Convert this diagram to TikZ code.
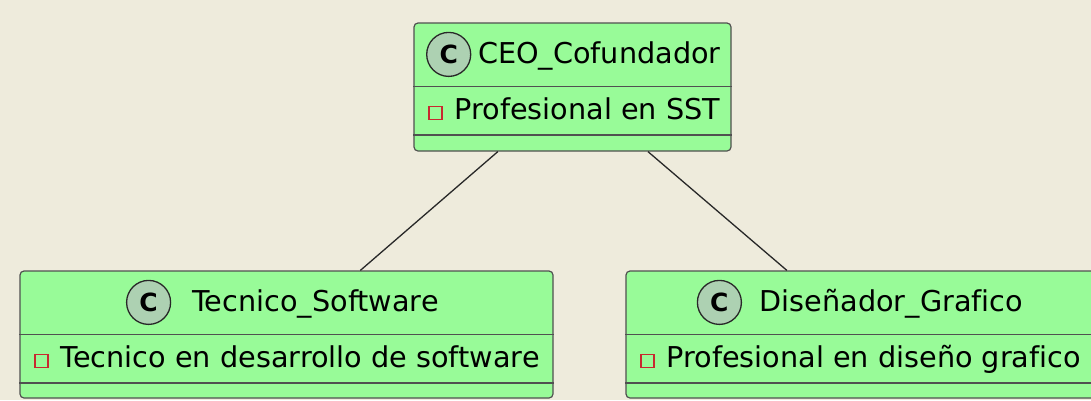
\documentclass[tikz,border=0pt]{standalone}
\usepackage{fontspec}
\setmainfont{DejaVu Sans}[Ligatures={NoCommon}]
\usetikzlibrary{calc}
\definecolor{bgcol}{HTML}{EEEBDC}
\definecolor{boxfill}{HTML}{98FB98}
\definecolor{boxline}{HTML}{505050}
\definecolor{spotfill}{HTML}{ADD1B2}
\definecolor{privred}{HTML}{C82930}
\definecolor{linecol}{HTML}{282828}
\tikzset{
  classbox/.style={draw=boxline, line width=1.2pt, fill=boxfill, rounded corners=4pt, rectangle, inner sep=0pt},
  sepline/.style={draw=boxline, line width=1.2pt},
  spot/.style={circle, draw=linecol, line width=1.3pt, fill=spotfill, minimum size=44pt, inner sep=0pt, font=\fontsize{25}{28}\selectfont\bfseries},
  clsname/.style={anchor=base west, inner sep=0pt, font=\fontsize{28.7}{34}\selectfont},
  attrtext/.style={anchor=base west, inner sep=0pt, font=\fontsize{28.7}{34}\selectfont},
  privmark/.style={rectangle, draw=privred, line width=1.6pt, minimum size=13pt, inner sep=0pt},
  assoc/.style={draw=linecol, line width=1.3pt},
}
\begin{document}
\begin{tikzpicture}[x=1pt, y=-1pt]
\useasboundingbox (0,0) rectangle (1091,400);
\fill[bgcol] (0,0) rectangle (1091,400);
\begin{scope}
\clip (0,0) rectangle (1091,400);
% class boxes
\node[classbox, minimum width=317pt, minimum height=128pt] (ceo) at (572.5,87) {};
\node[classbox, minimum width=533pt, minimum height=127pt] (tec) at (286.5,334.5) {};
\node[classbox, minimum width=471pt, minimum height=127pt] (dis) at (861.5,334.5) {};
% connectors
\draw[assoc] (ceo) -- (tec);
\draw[assoc] (ceo) -- (dis);
% separators
\foreach \b in {ceo,tec,dis}{
  \draw[sepline] ([yshift=-64pt]\b.north west) -- ([yshift=-64pt]\b.north east);
  \draw[sepline] ([yshift=-112.5pt]\b.north west) -- ([yshift=-112.5pt]\b.north east);
  \node[privmark] (\b-priv) at ([xshift=22pt,yshift=-90.5pt]\b.north west) {};
}
% headers
\node[spot] (ceo-spot) at ([xshift=35.3pt,yshift=-32pt]ceo.north west) {C};
\node[clsname] (ceo-name) at ([xshift=64.4pt,yshift=-41.5pt]ceo.north west) {CEO\_Cofundador};
\node[spot] (tec-spot) at ([xshift=129.2pt,yshift=-32pt]tec.north west) {C};
\node[clsname] (tec-name) at ([xshift=172.7pt,yshift=-41.5pt]tec.north west) {Tecnico\_Software};
\node[spot] (dis-spot) at ([xshift=94pt,yshift=-32pt]dis.north west) {C};
\node[clsname] (dis-name) at ([xshift=134pt,yshift=-41.5pt]dis.north west) {Diseñador\_Grafico};
% attributes
\node[attrtext] (ceo-attr) at ([xshift=41pt,yshift=-97pt]ceo.north west) {Profesional en SST};
\node[attrtext] (tec-attr) at ([xshift=41pt,yshift=-97pt]tec.north west) {Tecnico en desarrollo de software};
\node[attrtext] (dis-attr) at ([xshift=41pt,yshift=-97pt]dis.north west) {Profesional en diseño grafico};
\end{scope}
\end{tikzpicture}
\end{document}
